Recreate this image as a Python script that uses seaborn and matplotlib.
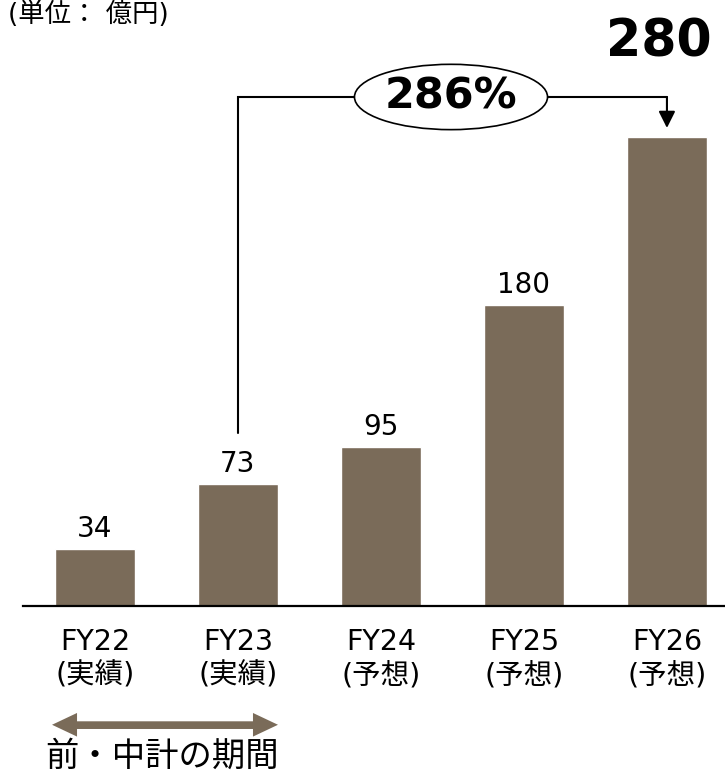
import matplotlib
matplotlib.use("Agg")
import matplotlib.pyplot as plt
from matplotlib.patches import Ellipse, FancyArrowPatch
import seaborn as sns
import pandas as pd

# Data
years = ["FY22", "FY23", "FY24", "FY25", "FY26"]
status = ["(実績)", "(実績)", "(予想)", "(予想)", "(予想)"]
values = [34, 73, 95, 180, 280]
growth_label = "286%"
unit_label = "(単位： 億円)"
period_label = "前・中計の期間"

BAR = "#7A6B59"

sns.set_style("white")
plt.rcParams["font.family"] = ["DejaVu Sans", "Noto Sans CJK JP"]
plt.rcParams["text.color"] = "black"
plt.rcParams["xtick.color"] = "black"

df = pd.DataFrame({"year": years, "value": values})
tick_text = [f"{y}\n{s}" for y, s in zip(years, status)]

W, H = 725, 782
fig = plt.figure(figsize=(W / 100, H / 100), dpi=100)
ax = fig.add_axes([23 / W, 176 / H, (W - 23) / W, 606 / H])

sns.barplot(data=df, x="year", y="value", color=BAR, saturation=1,
            width=0.56, ax=ax)

ax.set_xlim(-0.503, 4.406)
ax.set_ylim(0, 361.8)
ax.set_xlabel("")
ax.set_ylabel("")
ax.set_yticks([])
for side in ["top", "left", "right"]:
    ax.spines[side].set_visible(False)
ax.spines["bottom"].set_linewidth(1.6)
ax.spines["bottom"].set_color("black")
ax.set_xticks(range(len(years)))
ax.set_xticklabels(tick_text, fontsize=20.5, linespacing=1.25, color="black")
ax.tick_params(axis="x", length=0, pad=16)

# value labels above the first four bars; the last one is shown large at top
for i, v in enumerate(values[:-1]):
    ax.annotate(str(v), (i, v), xytext=(0, 6), textcoords="offset pixels",
                ha="center", va="bottom", fontsize=20, color="black")
ax.text(3.944, 336.5, str(values[-1]), ha="center", va="center",
        fontsize=36.5, fontweight="bold", color="black")

# growth bracket from FY23 to FY26
bracket_y = 303.9
ax.plot([1, 1, 4], [103.3, bracket_y, bracket_y], color="black", lw=1.5,
        solid_joinstyle="miter", zorder=3)
ax.add_patch(FancyArrowPatch((4, bracket_y), (4, values[-1] + 5.4),
                             arrowstyle="-|>,head_length=10,head_width=5",
                             mutation_scale=1, color="black", lw=1.5,
                             shrinkA=0, shrinkB=0, zorder=3))
ell = Ellipse((2.49, bracket_y), width=1.35, height=39, facecolor="white",
              edgecolor="black", lw=1.2, zorder=4)
ax.add_patch(ell)
ax.text(2.49, bracket_y, growth_label, ha="center", va="center",
        fontsize=31, fontweight="bold", color="black", zorder=5)

# period arrow under FY22-FY23: shaft plus a head at each end
trans = ax.get_xaxis_transform()
y_arr = -0.196
left_end, right_end = -0.30, 1.28
mid = (left_end + right_end) / 2
ax.plot([left_end + 0.1, right_end - 0.1], [y_arr, y_arr], transform=trans,
        color=BAR, lw=5, solid_capstyle="butt", clip_on=False)
for end in (left_end, right_end):
    arr = FancyArrowPatch((mid, y_arr), (end, y_arr), transform=trans,
                          arrowstyle="simple,head_length=18,head_width=17,tail_width=5",
                          mutation_scale=1, color=BAR, lw=0, clip_on=False,
                          shrinkA=0, shrinkB=0)
    ax.add_patch(arr)
ax.text(0.47, -0.248, period_label, transform=trans, ha="center",
        va="center", fontsize=24, clip_on=False, color="black",
        family=["Noto Sans CJK JP", "DejaVu Sans"])

fig.text(8 / W, 1 - 15 / H, unit_label, ha="left", va="center", fontsize=19,
         color="black")

fig.savefig("out.png", dpi=100)
